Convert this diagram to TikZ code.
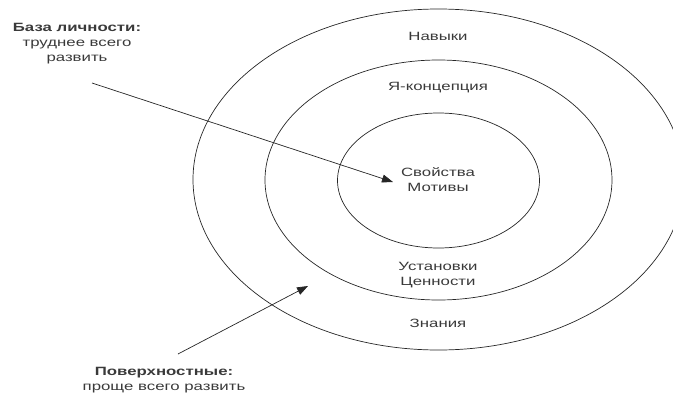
\documentclass[tikz,border=0pt]{standalone}
\usepackage{fontspec}
\setmainfont{Liberation Sans}
\usepackage{tikz}
\usetikzlibrary{arrows.meta}

\definecolor{ink}{HTML}{262626}
\definecolor{txt}{HTML}{3A3A3A}

\tikzset{
  lbl/.style={font=\fontsize{12}{15}\selectfont, text=txt, align=center,
              inner sep=0pt, xscale=1.4, transform shape},
  ring/.style={draw=ink, line width=0.7pt},
  pointer/.style={draw=ink, line width=0.7pt, -{Triangle[length=11pt,width=8pt]}}
}

\begin{document}
\begin{tikzpicture}[x=1pt, y=-1pt]
\useasboundingbox (0,0) rectangle (673,394);

\coordinate (c) at (438.5,180);
\draw[ring] (438.5,179.5) ellipse (245.5 and 170.5);
\draw[ring] (c) ellipse (173.5 and 120);
\draw[ring] (438.5,180.5) ellipse (101 and 67.5);

\node[lbl] (nav)  at (438,36)    {Навыки};
\node[lbl] (ya)   at (438,88)    {Я-концепция};
\node[lbl] (svo)  at (438,180)   {Свойства\\Мотивы};
\node[lbl] (ust)  at (438,275.5) {Установки\\Ценности};
\node[lbl] (zn)   at (438,323)   {Знания};

\node[lbl] (base) at (77,43.5)   {\textbf{База личности:}\\труднее всего\\развить};
\node[lbl] (surf) at (164,380)   {\textbf{Поверхностные:}\\проще всего развить};

\coordinate (b0) at (92,83);
\coordinate (b1) at (393,182);
\coordinate (s0) at (178,354);
\coordinate (s1) at (308,286);

\draw[pointer] (b0) -- (b1);
\draw[pointer] (s0) -- (s1);
\end{tikzpicture}
\end{document}
